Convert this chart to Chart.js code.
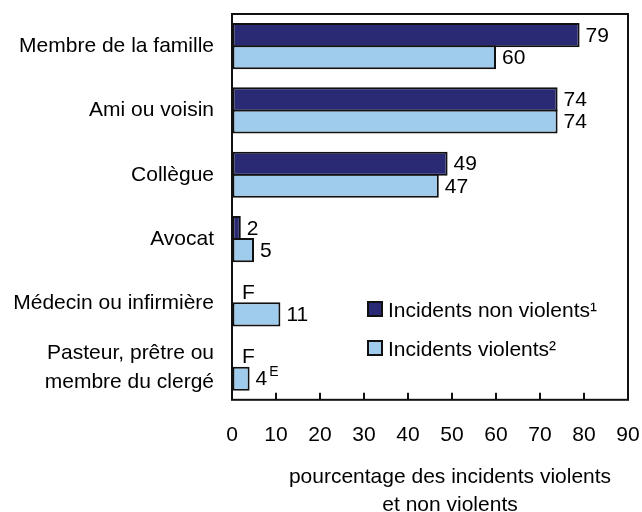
<!DOCTYPE html>
<html>
<head>
<meta charset="utf-8">
<script src="https://cdn.jsdelivr.net/npm/chart.js@4"></script>
<style>
    html, body { margin: 0; padding: 0; background: #fff; }
    #wrap { width: 642px; height: 512px; }
</style>
</head>
<body>
<div id="wrap"><canvas id="chart" width="642" height="512"></canvas></div>
<script>
// Data
const categories = [
    'Membre de la famille',
    'Ami ou voisin',
    'Collègue',
    'Avocat',
    'Médecin ou infirmière',
    ['Pasteur, prêtre ou', 'membre du clergé']
];
const nonViolent = [79, 74, 49, 2, null, null];
const violent = [60, 74, 47, 5, 11, 4];
const nonViolentLabels = ['79', '74', '49', '2', 'F', 'F'];
const violentLabels = ['60', '74', '47', '5', '11', '4'];
const violentSup = ['', '', '', '', '', 'E'];
const seriesNames = ['Incidents non violents¹', 'Incidents violents²'];
const xTicks = [0, 10, 20, 30, 40, 50, 60, 70, 80, 90];
const axisTitle = ['pourcentage des incidents violents', 'et non violents'];

const colors = {
    dark: '#2a2a74',
    light: '#9fcbec',
    line: '#111'
};
const FONT = '"Liberation Sans", Arial, Helvetica, sans-serif';
const SIZE = 21;

// frame, inner tick marks, value labels, legend and axis title
const extras = {
    id: 'extras',
    afterDatasetsDraw(chart) {
        const ctx = chart.ctx;
        const area = chart.chartArea;
        const xs = chart.scales.x;

        ctx.save();
        ctx.fillStyle = '#000';
        ctx.textBaseline = 'middle';
        ctx.textAlign = 'left';

        const sets = [
            { values: nonViolent, labels: nonViolentLabels, sup: null },
            { values: violent, labels: violentLabels, sup: violentSup }
        ];
        sets.forEach((s, d) => {
            const meta = chart.getDatasetMeta(d);
            meta.data.forEach((bar, i) => {
                const v = s.values[i];
                const x = v == null ? xs.getPixelForValue(0) + 10 : bar.x + 6;
                const y = bar.y;
                ctx.font = SIZE + 'px ' + FONT;
                ctx.fillText(s.labels[i], x, y + 1);
                if (s.sup && s.sup[i]) {
                    const w = ctx.measureText(s.labels[i]).width;
                    ctx.font = '14px ' + FONT;
                    ctx.fillText(s.sup[i], x + w + 2, y - 7);
                }
            });
        });

        // frame
        ctx.strokeStyle = colors.line;
        ctx.lineWidth = 2;
        ctx.strokeRect(area.left, area.top, area.right - area.left, area.bottom - area.top);

        // tick marks pointing inward
        xTicks.forEach(t => {
            const px = Math.round(xs.getPixelForValue(t));
            ctx.beginPath();
            ctx.moveTo(px, area.bottom);
            ctx.lineTo(px, area.bottom - 7);
            ctx.stroke();
        });

        // legend inside the plot
        const lx = 368, ly = [310, 349];
        ctx.font = SIZE + 'px ' + FONT;
        [colors.dark, colors.light].forEach((c, i) => {
            ctx.fillStyle = c;
            ctx.fillRect(lx, ly[i] - 8, 14, 14);
            ctx.strokeStyle = colors.line;
            ctx.lineWidth = 2;
            ctx.strokeRect(lx, ly[i] - 8, 14, 14);
            ctx.fillStyle = '#000';
            ctx.fillText(seriesNames[i], lx + 20, ly[i] + 1);
        });

        // axis title
        ctx.textAlign = 'center';
        ctx.fillText(axisTitle[0], 450, 477);
        ctx.fillText(axisTitle[1], 450, 505);
        ctx.restore();
    }
};

const barStyle = {
    borderColor: colors.line,
    borderWidth: 2,
    borderSkipped: false,
    categoryPercentage: 0.6875,
    barPercentage: 1.09
};

new Chart(document.getElementById('chart'), {
    type: 'bar',
    data: {
        labels: categories,
        datasets: [
            Object.assign({ label: seriesNames[0], data: nonViolent, backgroundColor: colors.dark }, barStyle),
            Object.assign({ label: seriesNames[1], data: violent, backgroundColor: colors.light }, barStyle)
        ]
    },
    options: {
        indexAxis: 'y',
        responsive: false,
        animation: false,
        layout: { padding: { top: 14, right: 14, bottom: 64, left: 0 } },
        plugins: {
            legend: { display: false },
            tooltip: { enabled: false }
        },
        scales: {
            x: {
                min: 0,
                max: 90,
                grid: { drawOnChartArea: false, drawTicks: true, tickLength: 23, tickColor: 'rgba(0,0,0,0)' },
                border: { display: false },
                afterFit(scale) {
                    scale.paddingLeft = 0;
                    scale.paddingRight = 0;
                },
                ticks: {
                    stepSize: 10,
                    color: '#000',
                    padding: 0,
                    maxRotation: 0,
                    font: { family: FONT, size: SIZE }
                }
            },
            y: {
                grid: { drawOnChartArea: false, drawTicks: true, tickLength: 18, tickColor: 'rgba(0,0,0,0)' },
                border: { display: false },
                afterFit(scale) {
                    scale.width = 232;
                    scale.paddingTop = 0;
                    scale.paddingBottom = 0;
                },
                ticks: {
                    color: '#000',
                    padding: 0,
                    autoSkip: false,
                    font: { family: FONT, size: SIZE, lineHeight: 1.4 }
                }
            }
        }
    },
    plugins: [extras]
});
</script>
</body>
</html>
